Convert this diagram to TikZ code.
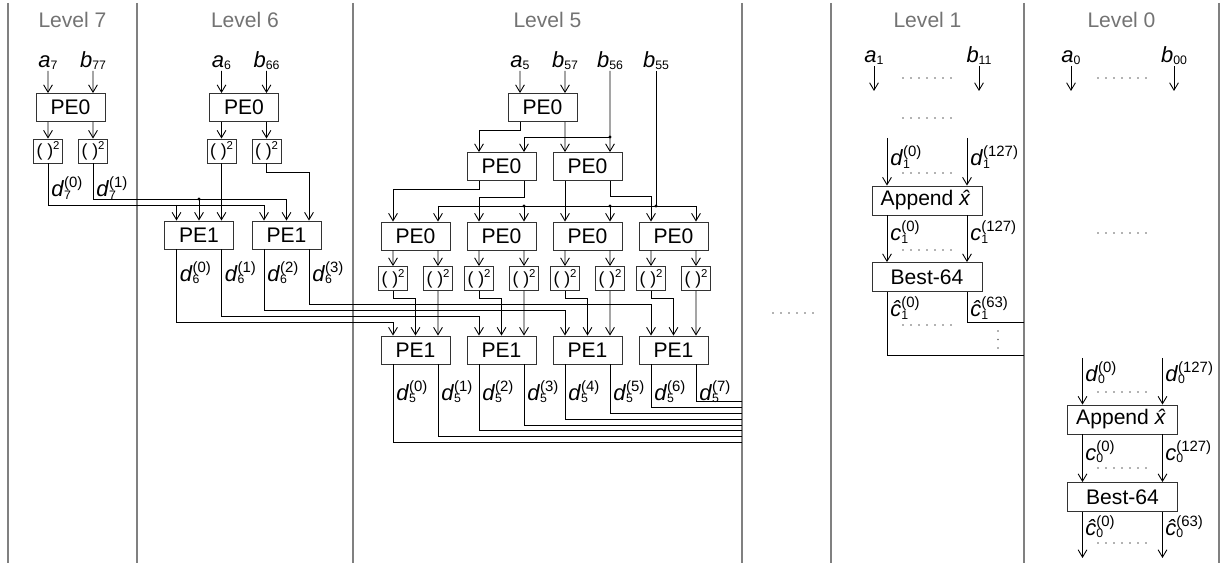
\documentclass[tikz,border=0pt]{standalone}
\usepackage{fontspec}
\setmainfont{Liberation Sans}
\usetikzlibrary{arrows.meta}
\newcommand{\lowidx}[1]{\raisebox{-1.4pt}{\fontsize{7}{8}\selectfont #1}}
\newcommand{\highidx}[1]{\raisebox{5pt}{\fontsize{8.5}{9}\selectfont #1}}
\newcommand{\iv}[2]{\textit{#1}\lowidx{#2}}
\newcommand{\dv}[3]{\textit{#1}\rlap{\lowidx{#2}}\highidx{(#3)}}
\newcommand{\sqr}{(\ )\raisebox{3.8pt}{\fontsize{6.5}{7}\selectfont 2}}
\begin{document}
\begin{tikzpicture}[x=0.02cm,y=-0.02cm,line width=0.5pt,
  >={Straight Barb[length=4.2pt,width=5pt]},
  every node/.style={font=\fontsize{12}{14}\selectfont},
  pe/.style={draw=black!80,line width=0.5pt,inner sep=0pt,minimum width=1.38cm,minimum height=0.56cm},
  sqbox/.style={pe,minimum width=0.58cm,minimum height=0.48cm,font=\fontsize{10}{11}\selectfont},
  wide/.style={pe,minimum width=2.2cm,minimum height=0.58cm},
  sepline/.style={black!50,line width=1pt},
  lvl/.style={text=black!55},
  inlab/.style={anchor=south,inner sep=0.5pt,font=\fontsize{12.5}{14}\selectfont},
  dlab/.style={anchor=west,inner sep=0.5pt,font=\fontsize{12.5}{14}\selectfont},
  dotc/.style={fill=black!60}]
\useasboundingbox (0,0) rectangle (1221,563);
\foreach \x in {8,137,353,742,831,1024,1219}
  \draw[sepline] (\x,3) -- (\x,563);
\foreach \x/\n in {72.5/7,245/6,547.5/5,927.5/1,1121.5/0}
  \node[lvl] (lv\n) at (\x,20) {Level \n};

\node[pe] (top7) at (70.5,107.5) {PE0};
\node[inlab] (a7) at (48,71) {\iv{a}{7}};
\node[inlab] (b77) at (93,71) {\iv{b}{77}};
\node[sqbox] (sq7a) at (48,151) {\sqr};
\node[sqbox] (sq7b) at (93,151) {\sqr};
\node[dlab] (d7-0) at (50,188) {\dv{d}{7}{0}};
\node[dlab] (d7-1) at (95,188) {\dv{d}{7}{1}};

\node[pe] (top6) at (244,107.5) {PE0};
\node[inlab] (a6) at (221.5,71) {\iv{a}{6}};
\node[inlab] (b66) at (266.5,71) {\iv{b}{66}};
\node[sqbox] (sq6a) at (221.5,151) {\sqr};
\node[sqbox] (sq6b) at (266.5,151) {\sqr};
\node[pe] (out6a) at (199,235) {PE1};
\node[pe] (out6b) at (286.5,235) {PE1};
\foreach \x/\n in {176.5/0,221.5/1,264/2,309/3}
  \node[dlab] (d6-\n) at (\x+2,273) {\dv{d}{6}{\n}};

\node[pe] (top5) at (542.5,107.5) {PE0};
\foreach \x/\n/\t in {520/a5/\iv{a}{5},565/b57/\iv{b}{57},610/b56/\iv{b}{56},656/b55/\iv{b}{55}}
  \node[inlab] (\n) at (\x,71) {\t};
\node[pe] (mid5l) at (501.5,166.5) {PE0};
\node[pe] (mid5r) at (587.5,166.5) {PE0};
\foreach \k/\x in {a/415.5,b/501.5,c/587.5,d/673.5}{
  \node[pe] (low5\k) at (\x,236) {PE0};
  \node[sqbox] (sq5\k1) at (\x-22.5,278.5) {\sqr};
  \node[sqbox] (sq5\k2) at (\x+22.5,278.5) {\sqr};
  \node[pe] (out5\k) at (\x,350) {PE1};
}
\foreach \x/\n in {393/0,438/1,479/2,524/3,565/4,610/5,651/6,696/7}
  \node[dlab] (d5-\n) at (\x+2,392) {\dv{d}{5}{\n}};

\node[inlab] (a1) at (874,66) {\iv{a}{1}};
\node[inlab] (b11) at (979,66) {\iv{b}{11}};
\node[wide] (app1) at (927,200.5) {Append \textit{\^x}};
\node[wide] (best1) at (927,277) {Best-64};
\node[dlab] (d1-0) at (889,157) {\dv{d}{1}{0}};
\node[dlab] (d1-127) at (969,157) {\dv{d}{1}{127}};
\node[dlab] (c1-0) at (889,232) {\dv{c}{1}{0}};
\node[dlab] (c1-127) at (969,232) {\dv{c}{1}{127}};
\node[dlab] (h1-0) at (889,308) {\dv{\^c}{1}{0}};
\node[dlab] (h1-63) at (969,308) {\dv{\^c}{1}{63}};

\node[inlab] (a0) at (1071,66) {\iv{a}{0}};
\node[inlab] (b00) at (1174,66) {\iv{b}{00}};
\node[wide] (app0) at (1122.5,419.5) {Append \textit{\^x}};
\node[wide] (best0) at (1122.5,497) {Best-64};
\node[dlab] (d0-0) at (1084,373) {\dv{d}{0}{0}};
\node[dlab] (d0-127) at (1164,373) {\dv{d}{0}{127}};
\node[dlab] (c0-0) at (1084,452) {\dv{c}{0}{0}};
\node[dlab] (c0-127) at (1164,452) {\dv{c}{0}{127}};
\node[dlab] (h0-0) at (1084,527) {\dv{\^c}{0}{0}};
\node[dlab] (h0-63) at (1164,527) {\dv{\^c}{0}{63}};

\foreach \n in {top7,top6,out6a,out6b,top5,mid5l,mid5r,low5a,low5b,low5c,low5d,out5a,out5b,out5c,out5d}{
  \coordinate (\n-1) at ([xshift=-0.45cm]\n.north);
  \coordinate (\n-2) at (\n.north);
  \coordinate (\n-3) at ([xshift=0.45cm]\n.north);
}
\foreach \n in {app1,best1,app0,best0}{
  \coordinate (\n-1) at ([xshift=-0.8cm]\n.north);
  \coordinate (\n-3) at ([xshift=0.8cm]\n.north);
}
\coordinate (bus5) at (742,0);
\coordinate (bus1) at (1024,0);
\coordinate (a1e) at (874,91);
\coordinate (b11e) at (979,91);
\coordinate (a0e) at (1071,91);
\coordinate (b00e) at (1174,91);

\draw[->] (a7) -- (top7-1);
\draw[->] (b77) -- (top7-3);
\draw[->] (top7-1 |- top7.south) -- (sq7a);
\draw[->] (top7-3 |- top7.south) -- (sq7b);
\draw[->] (sq7a) |- (out6b-1 |- 0,205) -- (out6b-1);
\draw[->] (out6a-1 |- 0,205) -- (out6a-1);
\draw[->] (sq7b) |- (out6b-2 |- 0,199) -- (out6b-2);
\draw[->] (out6a-2 |- 0,199) -- (out6a-2);
\fill (out6a-2 |- 0,199) circle (0.9pt);

\draw[->] (a6) -- (top6-1);
\draw[->] (b66) -- (top6-3);
\draw[->] (top6-1 |- top6.south) -- (sq6a);
\draw[->] (top6-3 |- top6.south) -- (sq6b);
\draw[->] (sq6a) -- (out6a-3);
\draw[->] (sq6b) |- (out6b-3 |- 0,172) -- (out6b-3);
\foreach \b/\i/\t/\y in {out6a/1/out5a/322,out6a/3/out5b/316,out6b/1/out5c/310,out6b/3/out5d/304}
  \draw[->] (\b-\i |- \b.south) |- (\t-1 |- 0,\y) -- (\t-1);

\draw[->] (a5) -- (top5-1);
\draw[->] (b57) -- (top5-3);
\draw[->] (b56) -- (mid5r-3);
\draw[->] (mid5r-3 |- 0,137) -| (mid5l-3);
\fill (mid5r-3 |- 0,137) circle (0.9pt);
\draw[->] (top5-1 |- top5.south) |- (mid5l-1 |- 0,130) -- (mid5l-1);
\draw[->] (top5-3 |- top5.south) -- (mid5r-1);
\draw[->] (mid5l-1 |- mid5l.south) |- (low5a-1 |- 0,189) -- (low5a-1);
\draw[->] (mid5l-3 |- mid5l.south) |- (low5b-1 |- 0,197) -- (low5b-1);
\draw[->] (mid5r-1 |- mid5r.south) -- (low5c-1);
\draw[->] (mid5r-3 |- mid5r.south) |- (low5d-1 |- 0,196) -- (low5d-1);
\draw (b55) -- (b55 |- 0,206);
\draw (low5a-3 |- 0,206) -- (low5d-3 |- 0,206);
\foreach \k in {a,b,c,d}{
  \draw[->] (low5\k-3 |- 0,206) -- (low5\k-3);
  \draw[->] (low5\k-1 |- low5\k.south) -- (sq5\k1);
  \draw[->] (low5\k-3 |- low5\k.south) -- (sq5\k2);
  \draw[->] (sq5\k1) |- (out5\k-2 |- 0,298) -- (out5\k-2);
  \draw[->] (sq5\k2) -- (out5\k-3);
}
\foreach \p in {low5b-3,low5c-3,b55}
  \fill (\p |- 0,206) circle (0.9pt);
\foreach \k/\ya/\yb in {a/442/436,b/430/425,c/419/413,d/407/401}{
  \draw (out5\k-1 |- out5\k.south) |- (bus5 |- 0,\ya);
  \draw (out5\k-3 |- out5\k.south) |- (bus5 |- 0,\yb);
}

\draw[->] (a1) -- (a1e);
\draw[->] (b11) -- (b11e);
\draw[->] (app1-1 |- 0,138) -- (app1-1);
\draw[->] (app1-3 |- 0,138) -- (app1-3);
\draw[->] (app1-1 |- app1.south) -- (best1-1);
\draw[->] (app1-3 |- app1.south) -- (best1-3);
\draw (best1-1 |- best1.south) |- (bus1 |- 0,355);
\draw (best1-3 |- best1.south) |- (bus1 |- 0,322);

\draw[->] (a0) -- (a0e);
\draw[->] (b00) -- (b00e);
\draw[->] (app0-1 |- 0,358) -- (app0-1);
\draw[->] (app0-3 |- 0,358) -- (app0-3);
\draw[->] (app0-1 |- app0.south) -- (best0-1);
\draw[->] (app0-3 |- app0.south) -- (best0-3);
\draw[->] (best0-1 |- best0.south) -- (best0-1 |- 0,558);
\draw[->] (best0-3 |- best0.south) -- (best0-3 |- 0,558);

\foreach \y in {78,118,173,250,325}
  \foreach \i in {0,...,6} \fill[dotc] (903+8*\i,\y) circle (0.45pt);
\foreach \y in {78,233,392,468,543}
  \foreach \i in {0,...,6} \fill[dotc] (1098+8*\i,\y) circle (0.45pt);
\foreach \i in {0,...,5} \fill[dotc] (773+8*\i,313) circle (0.45pt);
\foreach \y in {331,339.5,348} \fill[dotc] (998,\y) circle (0.45pt);
\end{tikzpicture}
\end{document}
